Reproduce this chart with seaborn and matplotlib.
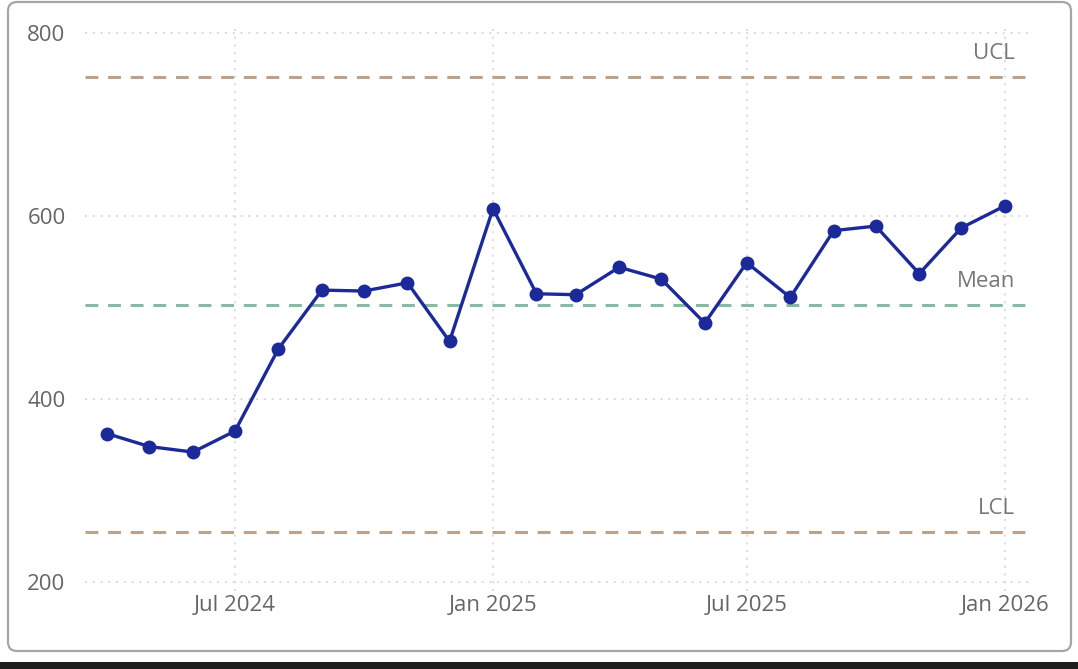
import matplotlib
matplotlib.use("Agg")
import matplotlib.pyplot as plt
from matplotlib.patches import FancyBboxPatch, Rectangle
from matplotlib.transforms import blended_transform_factory
import pandas as pd
import seaborn as sns

# Monthly observations
months = ["2024-04", "2024-05", "2024-06", "2024-07", "2024-08", "2024-09",
          "2024-10", "2024-11", "2024-12", "2025-01", "2025-02", "2025-03",
          "2025-04", "2025-05", "2025-06", "2025-07", "2025-08", "2025-09",
          "2025-10", "2025-11", "2025-12", "2026-01"]
values = [362, 348, 342, 365, 455, 519, 518, 527, 463, 608, 515, 514,
          544, 531, 483, 549, 511, 584, 589, 537, 587, 611]

# Control limits
ucl = 752
center = 503
lcl = 255

y_ticks = [200, 400, 600, 800]
x_ticks = ["2024-07", "2025-01", "2025-07", "2026-01"]
x_tick_labels = ["Jul 2024", "Jan 2025", "Jul 2025", "Jan 2026"]

df = pd.DataFrame({"month": pd.to_datetime(months), "value": values})

sns.set_style("white")
plt.rcParams["font.family"] = ["Open Sans", "DejaVu Sans"]

W, H = 1078, 669
fig = plt.figure(figsize=(W / 100, H / 100), dpi=100)
fig.patch.set_facecolor("white")

# Card frame (pixel coordinates) and bottom strip
card = FancyBboxPatch((8, 18), 1063, 649,
                      boxstyle="round,pad=0,rounding_size=9",
                      transform=None, facecolor="none",
                      edgecolor="#a6a6a6", linewidth=1.6, zorder=-1)
fig.patches.append(card)
fig.patches.append(Rectangle((0, 0), 1, 7 / H, transform=fig.transFigure,
                             facecolor="#1e1e1e", edgecolor="none", zorder=-1))

ax = fig.add_axes([85 / W, (H - 591.15) / H, 945 / W, 567.3 / H])
ax.set_facecolor("none")

grid_kw = dict(color="#dadada", linewidth=1.4, linestyle=(0, (1, 3)), zorder=0)
for yv in y_ticks:
    ax.axhline(yv, **grid_kw)
for xv in x_ticks:
    ax.axvline(pd.Timestamp(xv), **grid_kw)

limit_kw = dict(linewidth=2.2, dashes=(4.2, 3.2), zorder=1)
ax.axhline(ucl, color="#bba28c", **limit_kw)
ax.axhline(lcl, color="#bba28c", **limit_kw)
ax.axhline(center, color="#86bba2", **limit_kw)

sns.lineplot(data=df, x="month", y="value", ax=ax, color="#1b2a98",
             linewidth=2.4, marker="o", markersize=10,
             markeredgewidth=0, zorder=3)

trans = blended_transform_factory(ax.transAxes, ax.transData)
for label, yv in [("UCL", ucl), ("Mean", center), ("LCL", lcl)]:
    ax.annotate(label, xy=(0.984, yv), xycoords=trans,
                xytext=(0, 17), textcoords="offset points",
                ha="right", va="center", fontsize=16, color="#777777")

ax.set_xlim(pd.Timestamp("2024-03-16"), pd.Timestamp("2026-01-19"))
ax.set_ylim(190, 810)
ax.set_yticks(y_ticks)
ax.set_yticklabels([str(v) for v in y_ticks])
ax.set_xticks([pd.Timestamp(x) for x in x_ticks])
ax.set_xticklabels(x_tick_labels)
ax.tick_params(axis="both", length=0, labelsize=16, labelcolor="#666666")
ax.tick_params(axis="y", pad=14)
ax.tick_params(axis="x", pad=3)
ax.set_xlabel("")
ax.set_ylabel("")
for s in ax.spines.values():
    s.set_visible(False)

fig.savefig("out.png", dpi=100, facecolor="white")
